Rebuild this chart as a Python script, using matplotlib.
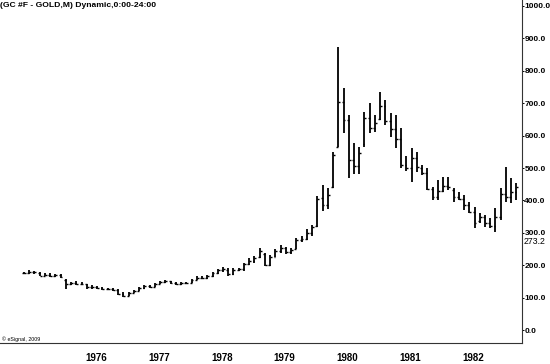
"""Monthly gold futures bar chart (GC #F), Jan 1975 - Nov 1982, eSignal style."""
import matplotlib
matplotlib.use("Agg")
import matplotlib.pyplot as plt
import pandas as pd

# monthly OHLC, Jan 1975 .. Nov 1982
months = pd.date_range("1975-01-01", "1982-11-01", freq="MS")

opens = [176, 176, 180, 176, 168, 170, 168, 170, 154, 142, 144, 143,
         141, 132, 134, 130, 128, 126, 124, 112, 106, 115, 122, 130,
         135, 133, 143, 149, 150, 145, 142, 145, 146, 154, 162, 162,
         166, 176, 184, 186, 172, 185, 188, 204, 214, 224, 236, 202,
         226, 244, 254, 240, 250, 278, 280, 300, 320, 408, 385, 440,
         565, 705, 648, 525, 505, 575, 655, 625, 650, 690, 645, 620,
         590, 510, 500, 530, 500, 485, 435, 410, 430, 445, 432, 412,
         405, 385, 365, 335, 350, 330, 320, 350, 420, 410, 425]
highs = [178, 184, 183, 178, 176, 175, 174, 172, 156, 149, 150, 147,
         142, 138, 136, 132, 130, 129, 126, 116, 118, 125, 133, 138,
         139, 146, 152, 153, 151, 147, 147, 148, 156, 166, 168, 170,
         180, 188, 194, 190, 190, 192, 208, 222, 228, 254, 238, 232,
         250, 262, 256, 252, 283, 290, 312, 324, 413, 449, 439, 548,
         875, 746, 664, 576, 566, 674, 700, 664, 736, 710, 669, 664,
         622, 536, 561, 550, 509, 499, 440, 463, 473, 473, 437, 427,
         417, 396, 381, 360, 355, 345, 376, 437, 504, 468, 453]
lows = [174, 174, 172, 166, 166, 164, 164, 162, 128, 140, 140, 138,
        128, 128, 127, 125, 124, 122, 108, 103, 104, 113, 120, 128,
        130, 132, 141, 146, 143, 140, 140, 143, 145, 153, 158, 159,
        164, 174, 180, 168, 170, 181, 182, 202, 208, 222, 198, 198,
        225, 238, 234, 234, 250, 272, 278, 290, 318, 367, 372, 439,
        565, 608, 468, 483, 483, 566, 607, 612, 648, 633, 597, 561,
        500, 490, 457, 489, 478, 432, 401, 401, 427, 432, 396, 401,
        370, 360, 314, 329, 319, 314, 304, 340, 396, 391, 401]
closes = [175, 180, 178, 168, 170, 168, 170, 165, 142, 144, 143, 141,
          132, 134, 130, 128, 126, 124, 112, 106, 115, 122, 130, 135,
          133, 143, 149, 150, 145, 142, 145, 146, 154, 162, 162, 166,
          176, 184, 188, 172, 185, 188, 204, 214, 222, 245, 202, 226,
          244, 254, 240, 248, 278, 280, 300, 318, 405, 385, 418, 540,
          705, 648, 525, 505, 545, 655, 625, 640, 690, 645, 620, 590,
          510, 500, 530, 502, 485, 435, 410, 430, 445, 440, 412, 405,
          385, 365, 330, 350, 330, 320, 350, 420, 410, 425, 440]

ytick_values = [0, 100, 200, 300, 400, 500, 600, 700, 800, 900, 1000]
last_marker = 273.2
title = "(GC #F - GOLD,M) Dynamic,0:00-24:00"
credit = "\u00a9 eSignal, 2009"

plt.rcParams["font.family"] = ["Liberation Sans", "DejaVu Sans"]

fig = plt.figure(figsize=(5.5, 3.64), dpi=100)
ax = fig.add_axes([0.0, 1 - 343 / 364, 522 / 550, 343 / 364])

idx = list(range(len(months)))
w = 0.36
ax.vlines(idx, lows, highs, color="black", lw=1.3)
ax.hlines(opens, [i - w for i in idx], idx, color="black", lw=1.0)
ax.hlines(closes, idx, [i + w for i in idx], color="black", lw=1.0)

ax.set_xlim(-4.56, 95.06)
ax.set_ylim(-40, 1018.5)

for s in ["top", "left"]:
    ax.spines[s].set_visible(False)
for s in ["right", "bottom"]:
    ax.spines[s].set_color("#333333")
    ax.spines[s].set_linewidth(0.8)

ax.yaxis.tick_right()
ax.set_yticks(ytick_values)
ax.set_yticklabels([f"{v:.1f}" for v in ytick_values],
                   fontsize=6.0, fontweight="bold")
ax.tick_params(axis="y", length=1.5, pad=0.2, width=0.7)

jan = [i for i, m in enumerate(months) if m.month == 1 and m.year > 1975]
ax.set_xticks([i - 0.3 for i in jan])
ax.set_xticklabels([str(months[i].year) for i in jan],
                   fontsize=7, fontweight="bold", ha="left")
ax.tick_params(axis="x", length=0, pad=7)

ax.text(1.004, last_marker, f"{last_marker:.1f}",
        transform=ax.get_yaxis_transform(), fontsize=6.3,
        va="center", ha="left")

fig.text(0.0, 1 - 2 / 364, title, fontsize=6.1, fontweight="bold",
         va="top", ha="left")
ax.text(0.004, -27, credit, fontsize=3.8, va="center", ha="left",
        transform=ax.get_yaxis_transform())

fig.savefig("out.png", dpi=100)
